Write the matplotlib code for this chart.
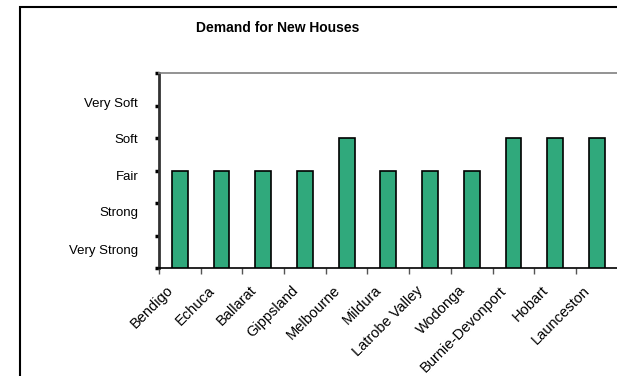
import matplotlib.pyplot as plt
import matplotlib.patches as mpatches
import matplotlib.transforms as mtransforms
import numpy as np

plt.rcParams['font.family'] = ['Liberation Sans', 'DejaVu Sans']

regions = ['Bendigo', 'Echuca', 'Ballarat', 'Gippsland', 'Melbourne', 'Mildura',
           'Latrobe Valley', 'Wodonga', 'Burnie-Devonport', 'Hobart', 'Launceston']
demand = [3, 3, 3, 3, 4, 3, 3, 3, 4, 4, 4]
level_labels = ['Very Strong', 'Strong', 'Fair', 'Soft', 'Very Soft']
level_pos = [0.58, 1.73, 2.84, 3.97, 5.08]

fig = plt.figure(figsize=(6.17, 3.76), dpi=100)
ax = fig.add_axes([159 / 617, 1 - 268 / 376, 458.7 / 617, 195 / 376])

x = np.arange(len(regions))
ax.bar(x, demand, width=0.38, color='#30a97c', edgecolor='black', linewidth=1.2,
       zorder=3)

ax.set_xlim(-0.5, len(regions) - 0.5)
ax.set_ylim(0, 6)

# tick marks at boundaries, labels at the centres
ax.set_xticks(np.arange(len(regions) + 1) - 0.5)
ax.set_xticklabels([])
ax.set_xticks(x, minor=True)
ax.set_xticklabels(regions, minor=True, rotation=45, ha='right',
                   rotation_mode='anchor', fontsize=10.5)
ax.tick_params(axis='x', which='major', direction='out', length=4, width=1,
               color='#555555')
ax.tick_params(axis='x', which='minor', length=0, pad=6)
shift = mtransforms.ScaledTranslation(-14 / 100, -7 / 100, fig.dpi_scale_trans)
for lbl in ax.get_xticklabels(minor=True):
    lbl.set_transform(lbl.get_transform() + shift)

ax.set_yticks(np.arange(0, 7))
ax.set_yticklabels([])
ax.set_yticks(level_pos, minor=True)
ax.set_yticklabels(level_labels, minor=True, fontsize=9.5)
ax.tick_params(axis='y', which='major', direction='out', length=3, width=2.5,
               color='black')
ax.tick_params(axis='y', which='minor', length=0, pad=15)

ax.spines['left'].set_color('#333333')
ax.spines['left'].set_linewidth(2)
ax.spines['bottom'].set_color('black')
ax.spines['bottom'].set_linewidth(1.2)
ax.spines['top'].set_color('#808080')
ax.spines['top'].set_linewidth(1.2)
ax.spines['right'].set_visible(False)

fig.text(278 / 617, 1 - 28 / 376, 'Demand for New Houses', ha='center',
         va='center', fontsize=10, fontweight='bold')

# chart area frame, cut off at the right and bottom
frame = mpatches.Rectangle((20 / 617, -0.1), 1.2, 1.1 - 7.5 / 376,
                           transform=fig.transFigure, fill=False,
                           edgecolor='black', linewidth=1.5)
fig.patches.append(frame)

fig.savefig('out.png', dpi=100)
